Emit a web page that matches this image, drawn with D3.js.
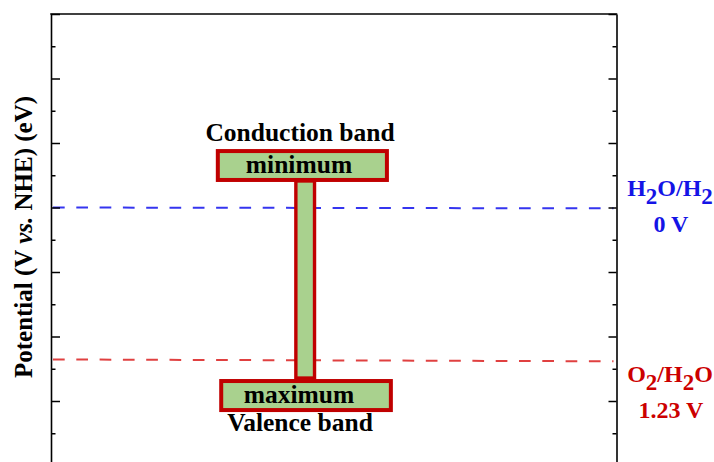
<!DOCTYPE html>
<html>
<head>
<meta charset="utf-8">
<script src="https://cdn.jsdelivr.net/npm/d3@7"></script>
<style>
  html, body { margin: 0; padding: 0; background: #fff; }
  svg { display: block; }
  text { font-family: "Liberation Serif", "Times New Roman", serif; font-weight: bold; }
</style>
</head>
<body>
<svg id="chart" width="714" height="462"></svg>
<script>
// ---- data ----
const yTicksMajor = [-1.56, -1.04, -0.52, 0, 0.52, 1.04, 1.56, 2.08];
const yTicksMinor = [-1.30, -0.78, -0.26, 0.26, 0.78, 1.30, 1.82];
const yDomain = [-1.56, 2.08];
const xDomain = [0, 100];

// band boxes
const bandNames = ["minimum", "maximum"];
const bandTitles = ["Conduction band", "Valence band"];
const bandX0 = [29.5, 30.1];
const bandX1 = [59.4, 60.1];
const bandTop = [-0.455, 1.399];
const bandBottom = [-0.222, 1.633];
// connector bar
const barX = [43.3, 46.6];
const barY = [-0.214, 1.375];

// redox levels
const levelNames = ["H2O/H2", "O2/H2O"];
const levelLabels = ["0 V", "1.23 V"];
const levelLeft = [0.0, 1.225];
const levelRight = [0.007, 1.24];

// ---- layout ----
const svg = d3.select("#chart");
const mLeft = 51, mRight = 616.5, mTop = 14;
const y = d3.scaleLinear().domain(yDomain).range([mTop, mTop + (yDomain[1] - yDomain[0]) * 124.04]);
const x = d3.scaleLinear().domain(xDomain).range([mLeft, mRight]);

const red = "#c00000", green = "#a9d18e";
const lineColors = ["#3535ef", "#e04040"];
const textColors = ["#1414e6", "#cc0000"];

// dashed reference lines
levelNames.forEach((n, i) => {
  svg.append("line")
    .attr("x1", x(0) + 2).attr("x2", x(100) - 3)
    .attr("y1", y(levelLeft[i])).attr("y2", y(levelRight[i]))
    .attr("stroke", lineColors[i]).attr("stroke-width", 2)
    .attr("stroke-dasharray", "11.7,11.6");
});

// axes
function styleAxis(g) {
  g.selectAll(".domain").attr("stroke", "#000").attr("stroke-width", 1.6);
  g.selectAll(".tick line").attr("stroke", "#000").attr("stroke-width", 1.5);
  g.selectAll(".tick text").remove();
}
svg.append("g").attr("transform", `translate(${mLeft},0)`)
  .call(d3.axisRight(y).tickValues(yTicksMajor).tickSize(9).tickSizeOuter(0).tickFormat(""))
  .call(styleAxis);
svg.append("g").attr("transform", `translate(${mLeft},0)`)
  .call(d3.axisRight(y).tickValues(yTicksMinor).tickSize(4.5).tickSizeOuter(0).tickFormat(""))
  .call(g => { styleAxis(g); g.select(".domain").remove(); });
svg.append("g").attr("transform", `translate(${mRight},0)`)
  .call(d3.axisLeft(y).tickValues(yTicksMajor).tickSize(8).tickSizeOuter(0).tickFormat(""))
  .call(styleAxis);
svg.append("g").attr("transform", `translate(${mRight},0)`)
  .call(d3.axisLeft(y).tickValues(yTicksMinor).tickSize(4).tickSizeOuter(0).tickFormat(""))
  .call(g => { styleAxis(g); g.select(".domain").remove(); });
svg.append("line").attr("x1", mLeft - 0.8).attr("x2", mRight + 0.8)
  .attr("y1", y(yDomain[0])).attr("y2", y(yDomain[0]))
  .attr("stroke", "#000").attr("stroke-width", 1.6);

// band boxes
bandNames.forEach((n, i) => {
  svg.append("rect")
    .attr("x", x(bandX0[i])).attr("y", y(bandTop[i]))
    .attr("width", x(bandX1[i]) - x(bandX0[i]))
    .attr("height", y(bandBottom[i]) - y(bandTop[i]))
    .attr("fill", green).attr("stroke", red).attr("stroke-width", 4);
});
// connector
svg.append("rect")
  .attr("x", x(barX[0])).attr("y", y(barY[0]))
  .attr("width", x(barX[1]) - x(barX[0]))
  .attr("height", y(barY[1]) - y(barY[0]))
  .attr("fill", green).attr("stroke", red).attr("stroke-width", 3.4);

// band texts
const textX = 299;
bandNames.forEach((n, i) => {
  const mid = (y(bandTop[i]) + y(bandBottom[i])) / 2;
  svg.append("text").attr("x", textX).attr("y", mid + 7)
    .attr("text-anchor", "middle").attr("font-size", 25.5).attr("fill", "#000")
    .text(n);
});
svg.append("text").attr("x", textX + 1).attr("y", y(bandTop[0]) - 10)
  .attr("text-anchor", "middle").attr("font-size", 25.5).attr("fill", "#000")
  .text(bandTitles[0]);
svg.append("text").attr("x", textX + 1).attr("y", y(bandBottom[1]) + 21)
  .attr("text-anchor", "middle").attr("font-size", 25.5).attr("fill", "#000")
  .text(bandTitles[1]);

// level labels (digit 2 as subscript)
function subLabel(sel, str) {
  const parts = str.split(/(2)/).filter(p => p !== "");
  let shifted = false;
  parts.forEach(p => {
    if (p === "2") {
      sel.append("tspan").attr("dy", 8).attr("font-size", 23).text("2");
      shifted = true;
    } else {
      const ts = sel.append("tspan").text(p);
      if (shifted) { ts.attr("dy", -8); shifted = false; }
    }
  });
}
const nameOffset = [-12, 23];
levelNames.forEach((n, i) => {
  const yy = y(levelLeft[i]) + nameOffset[i];
  const t = svg.append("text").attr("x", 670).attr("y", yy)
    .attr("text-anchor", "middle").attr("font-size", 24).attr("fill", textColors[i]);
  subLabel(t, n);
  svg.append("text").attr("x", 671).attr("y", yy + 36)
    .attr("text-anchor", "middle").attr("font-size", 24).attr("fill", textColors[i])
    .text(levelLabels[i]);
});

// y axis title
const yt = svg.append("text")
  .attr("transform", `translate(32, 237) rotate(-90)`)
  .attr("text-anchor", "middle").attr("font-size", 25).attr("fill", "#000");
yt.append("tspan").text("Potential (V ");
yt.append("tspan").attr("font-style", "italic").text("vs.");
yt.append("tspan").text(" NHE) (eV)");
</script>
</body>
</html>
